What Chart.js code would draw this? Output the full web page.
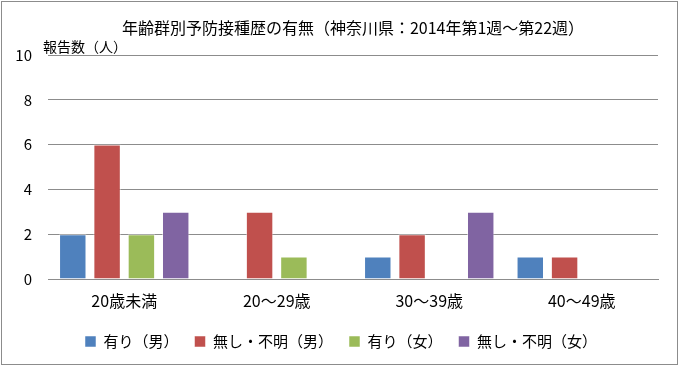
<!DOCTYPE html>
<html>
<head>
<meta charset="utf-8">
<script src="https://cdn.jsdelivr.net/npm/chart.js@4/dist/chart.umd.min.js"></script>
<style>
  html, body { margin: 0; padding: 0; background: #fff; }
  #wrap { width: 680px; height: 367px; position: relative; }
</style>
</head>
<body>
<div id="wrap"><canvas id="c"></canvas></div>
<script>
// データ
const chartTitle = '年齢群別予防接種歴の有無（神奈川県：2014年第1週～第22週）';
const yLabel = '報告数（人）';
const categories = ['20歳未満', '20～29歳', '30～39歳', '40～49歳'];
const seriesNames = ['有り（男）', '無し・不明（男）', '有り（女）', '無し・不明（女）'];
const ariMale = [2, 0, 1, 1];
const nashiMale = [6, 3, 2, 1];
const ariFemale = [2, 1, 0, 0];
const nashiFemale = [3, 0, 3, 0];
const yTicks = [0, 2, 4, 6, 8, 10];

const colors = ['#4f81bd', '#c0504d', '#9bbb59', '#8064a2'];
const fontFamily = '"Noto Sans CJK JP", "Noto Sans", sans-serif';

// 枠線・タイトル・縦軸タイトル
const framePlugin = {
    id: 'frame',
    afterLayout(chart) {
        // 凡例を少し右へ寄せる
        if (chart.legend) {
            chart.legend.left += 8;
            chart.legend.right += 8;
        }
    },
    afterDraw(chart) {
        const ctx = chart.ctx;
        const area = chart.chartArea;
        ctx.save();
        ctx.strokeStyle = '#8c8c8c';
        ctx.lineWidth = 1;
        ctx.strokeRect(1.5, 1.5, 676, 363);
        ctx.fillStyle = '#000';
        ctx.textBaseline = 'middle';
        ctx.font = '16px ' + fontFamily;
        ctx.textAlign = 'center';
        ctx.fillText(chartTitle, (area.left + area.right) / 2, 28);
        ctx.font = '14px ' + fontFamily;
        ctx.textAlign = 'left';
        ctx.fillText(yLabel, 43, 47);
        ctx.restore();
    }
};

const data = {
    labels: categories,
    datasets: [ariMale, nashiMale, ariFemale, nashiFemale].map((vals, i) => ({
        label: seriesNames[i],
        data: vals,
        backgroundColor: colors[i],
        borderColor: 'rgba(255,255,255,0.5)',
        borderWidth: 1,
        categoryPercentage: 0.9,
        barPercentage: 0.8
    }))
};

new Chart(document.getElementById('c'), {
    type: 'bar',
    data: data,
    options: {
        responsive: true,
        maintainAspectRatio: false,
        animation: false,
        layout: { padding: { left: 8, right: 22, top: 55, bottom: 8 } },
        plugins: {
            title: { display: false },
            legend: {
                position: 'bottom',
                labels: {
                    color: '#000',
                    boxWidth: 11,
                    boxHeight: 11,
                    padding: 16,
                    font: { family: fontFamily, size: 15 }
                }
            },
            tooltip: { enabled: false }
        },
        scales: {
            x: {
                grid: { display: false, drawTicks: false },
                border: { color: '#8c8c8c' },
                afterFit(scale) { scale.height = 39; },
                ticks: {
                    color: '#000',
                    padding: 12,
                    font: { family: fontFamily, size: 16 }
                }
            },
            y: {
                min: 0,
                max: 10,
                afterBuildTicks(scale) {
                    scale.ticks = yTicks.map(v => ({ value: v }));
                },
                afterFit(scale) { scale.width = 40; },
                grid: { color: '#8c8c8c', drawTicks: false },
                border: { display: false },
                ticks: {
                    color: '#000',
                    padding: 16,
                    font: { family: fontFamily, size: 15 }
                }
            }
        }
    },
    plugins: [framePlugin]
});
</script>
</body>
</html>
